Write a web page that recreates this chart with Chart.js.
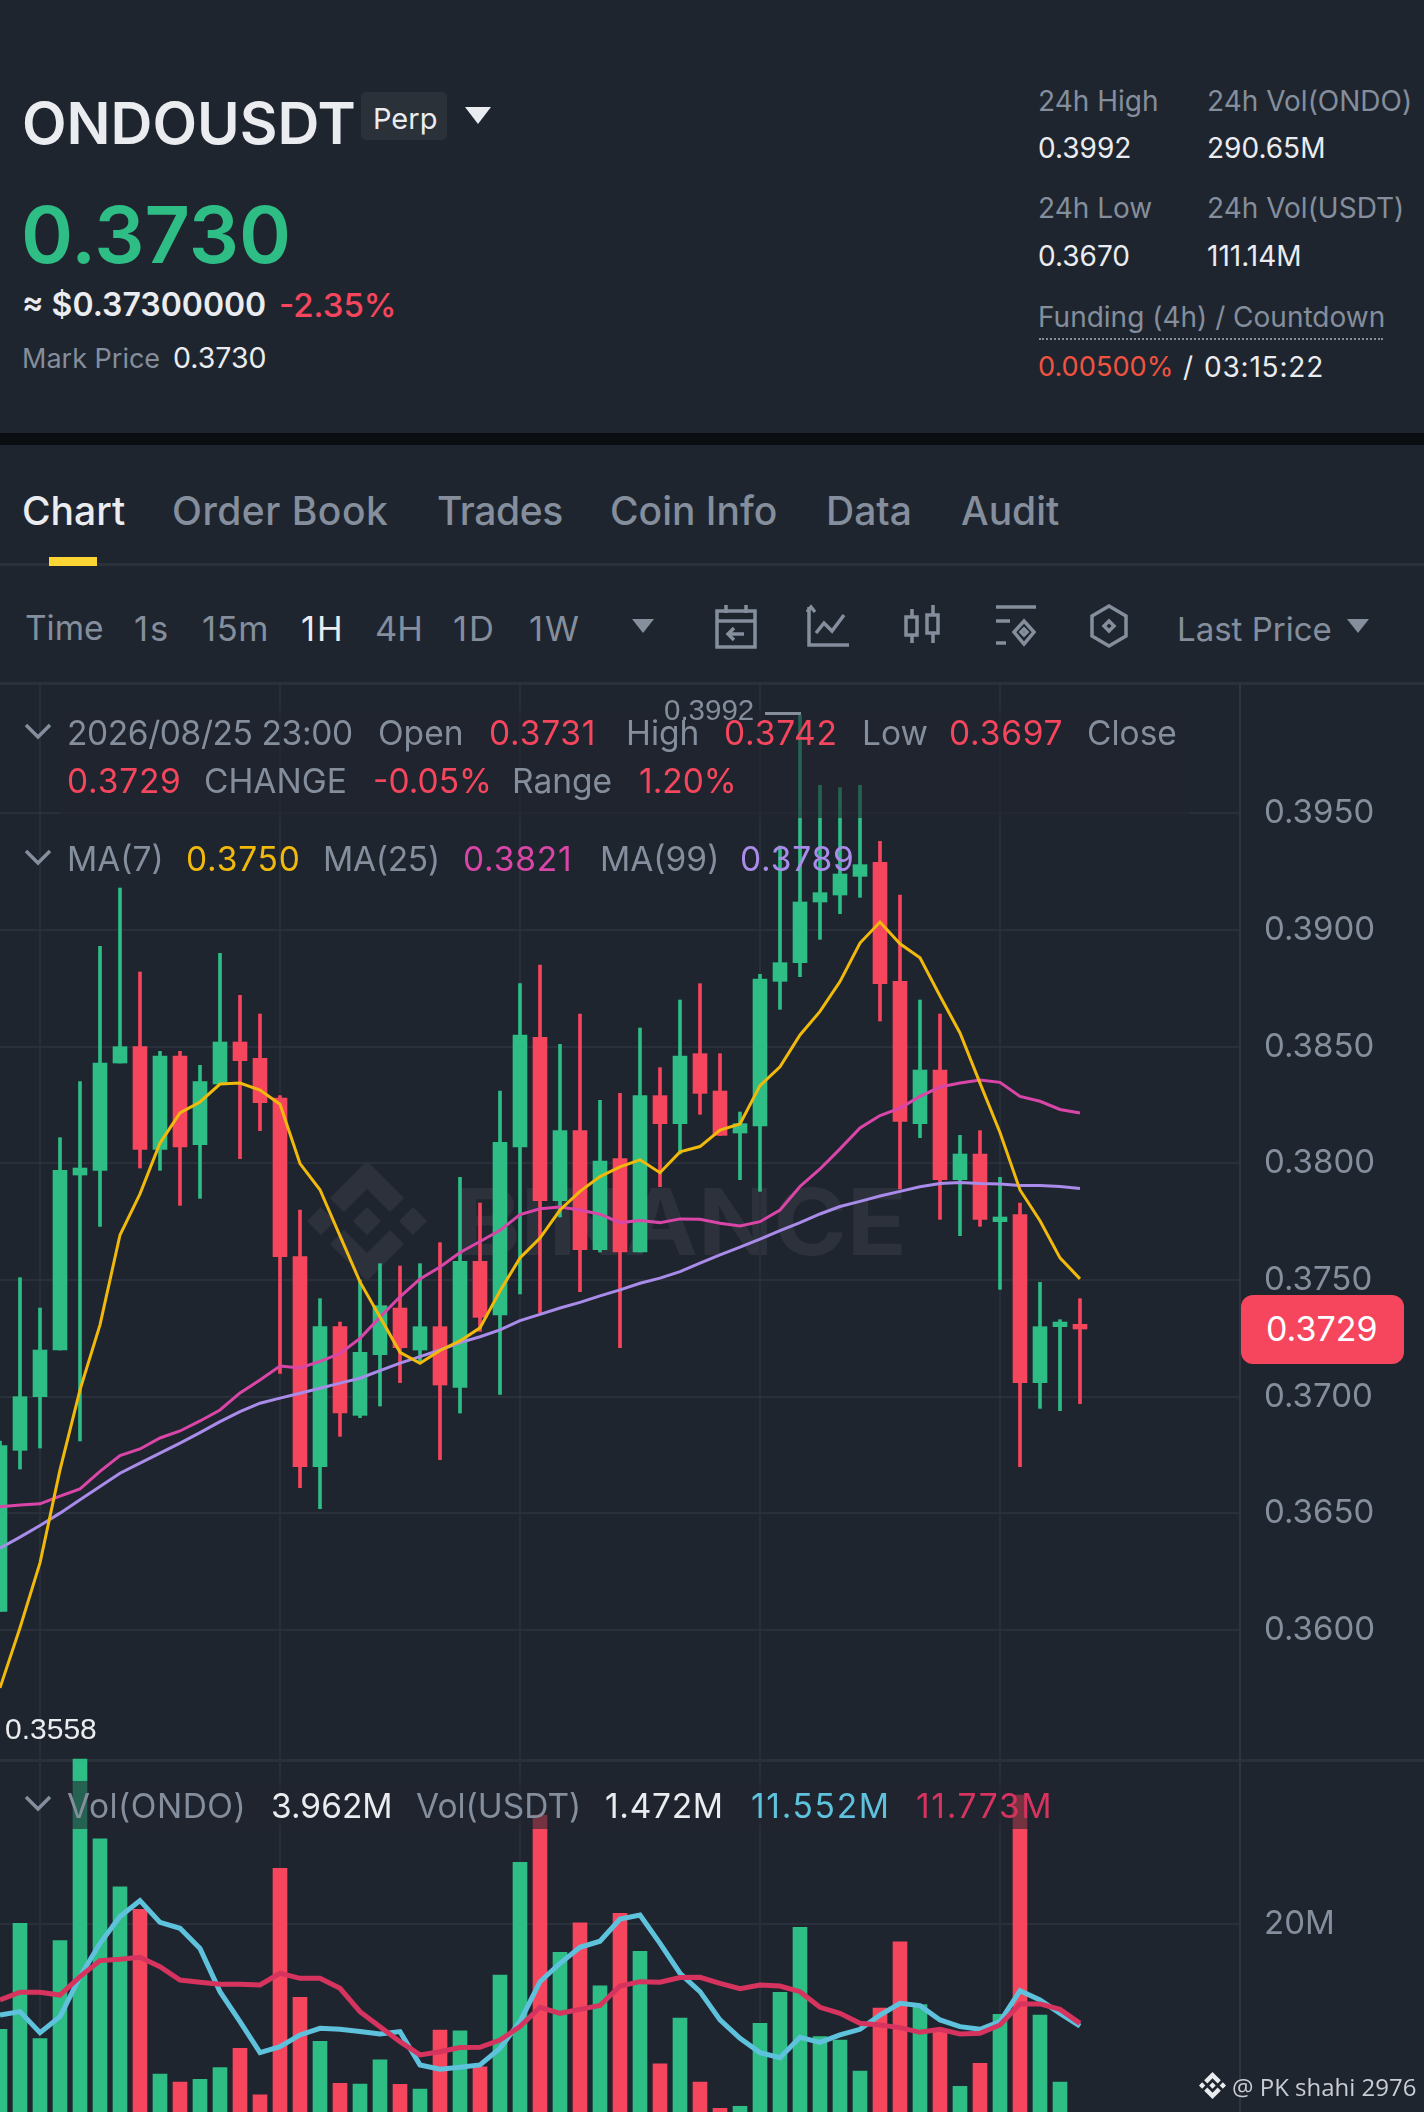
<!DOCTYPE html>
<html>
<head>
<meta charset="utf-8">
<title>ONDOUSDT</title>
<script src="https://cdn.jsdelivr.net/npm/chart.js@4"></script>
<style>
  html, body { margin: 0; padding: 0; background: #1F252F; }
  body { position: relative; width: 1424px; height: 2112px; overflow: hidden; font-family: Inter, sans-serif; }
  .t { position: absolute; white-space: nowrap; line-height: 1; transform: translateY(-50%); color: #848E9C; }
  .w { color: #EAECEF; }
  .g { color: #2EBD85; }
  .r { color: #F6465D; }
  .box { position: absolute; }
  canvas { position: absolute; left: 0; }
  .leg { font-size: 33.5px; }
  .num { letter-spacing: .8px; }
  .hd { font-size: 28px; }
  .tab { font-size: 39px; font-weight: 500; }
  .tf { font-size: 34.5px; }
  .one { letter-spacing: 2px; }
  .tri { position: absolute; width: 0; height: 0; border-left: 11px solid transparent; border-right: 11px solid transparent; border-top: 14px solid #848E9C; }
  svg.ic { position: absolute; fill: none; stroke: #848E9C; stroke-width: 3.5; }
</style>
</head>
<body>
<!-- header -->
<div class="t w" style="left:22px;top:123px;font-size:58px;font-weight:600">ONDOUSDT</div>
<div class="box" style="left:361px;top:92px;width:86px;height:48px;background:#2B3139;border-radius:5px"></div>
<div class="t w" style="left:373px;top:118px;font-size:29px">Perp</div>
<div class="tri" style="left:465px;top:107px;border-left-width:13px;border-right-width:13px;border-top:17px solid #EAECEF"></div>
<div class="t g" style="left:21px;top:234px;font-size:79px;font-weight:600">0.3730</div>
<div class="t w" style="left:22px;top:305px;font-size:32px;font-weight:600">≈ $0.37300000</div>
<div class="t r" style="left:279px;top:305px;font-size:33px;font-weight:500">-2.35%</div>
<div class="t" style="left:22px;top:358px;font-size:27px">Mark Price</div>
<div class="t w" style="left:173px;top:358px;font-size:28.5px">0.3730</div>

<div class="t hd" style="left:1038px;top:101px">24h High</div>
<div class="t hd" style="left:1207px;top:101px">24h Vol(ONDO)</div>
<div class="t hd w" style="left:1038px;top:148px">0.3992</div>
<div class="t hd w" style="left:1207px;top:148px">290.65M</div>
<div class="t hd" style="left:1038px;top:208px">24h Low</div>
<div class="t hd" style="left:1207px;top:208px">24h Vol(USDT)</div>
<div class="t hd w" style="left:1038px;top:256px">0.3670</div>
<div class="t hd w" style="left:1207px;top:256px">111.14M</div>
<div class="t hd" style="left:1038px;top:317px">Funding (4h) / Countdown</div>
<div class="box" style="left:1039px;top:338px;width:344px;border-top:2px dotted #848E9C"></div>
<div class="t" style="left:1038px;top:367px;font-size:27.2px;color:#F0533F">0.00500%</div>
<div class="t hd w" style="left:1183px;top:367px">/</div>
<div class="t hd w" style="left:1204px;top:367px;letter-spacing:.8px">03:15:22</div>

<div class="box" style="left:0;top:433px;width:1424px;height:12px;background:#0B0E11"></div>

<!-- tabs -->
<div class="t tab w" style="left:22px;top:510px">Chart</div>
<div class="t tab" style="left:172px;top:510px;letter-spacing:.5px">Order Book</div>
<div class="t tab" style="left:437px;top:510px;letter-spacing:-.4px">Trades</div>
<div class="t tab" style="left:610px;top:510px">Coin Info</div>
<div class="t tab" style="left:826px;top:510px">Data</div>
<div class="t tab" style="left:961px;top:510px">Audit</div>
<div class="box" style="left:0;top:563px;width:1424px;height:3px;background:#2B3139"></div>
<div class="box" style="left:49px;top:557px;width:48px;height:9px;background:#FCD535"></div>

<!-- timeframe row -->
<div class="t tf" style="left:25px;top:629px;font-size:33.5px">Time</div>
<div class="t tf one" style="left:134px;top:629px">1s</div>
<div class="t tf" style="left:202px;top:629px;letter-spacing:.6px">15m</div>
<div class="t tf w one" style="left:301px;top:629px">1H</div>
<div class="t tf" style="left:375px;top:629px">4H</div>
<div class="t tf one" style="left:453px;top:629px">1D</div>
<div class="t tf one" style="left:529px;top:629px">1W</div>
<div class="tri" style="left:632px;top:619px"></div>
<svg class="ic" style="left:712px;top:603px" width="48" height="46" viewBox="0 0 48 46"><path d="M5 8h38v36H5zM5 18h38M14 2v8M34 2v8M32 31H16m6-6-6 6 6 6"/></svg>
<svg class="ic" style="left:806px;top:603px" width="46" height="46" viewBox="0 0 46 46"><path d="M3 4v38h40M10 30l8-10 8 8 12-16M1 9l4-5 4 5"/></svg>
<svg class="ic" style="left:902px;top:603px" width="40" height="46" viewBox="0 0 40 46"><path d="M4 14h11v18H4zM25 12h11v18H25zM10 6v8M10 32v8M31 2v10M31 30v10"/></svg>
<svg class="ic" style="left:993px;top:603px" width="46" height="46" viewBox="0 0 46 46"><path d="M3 4h40M3 18h14M3 40h10M31 18l10 11-10 12-10-12zM31 26l3 3-3 3-3-3z"/></svg>
<svg class="ic" style="left:1089px;top:603px" width="40" height="46" viewBox="0 0 40 46"><path d="M20 3l17 10v20L20 43 3 33V13zM20 18l5 5-5 5-5-5z"/></svg>
<div class="t" style="left:1177px;top:629px;font-size:33px">Last Price</div>
<div class="tri" style="left:1347px;top:619px"></div>
<div class="box" style="left:0;top:682px;width:1424px;height:3px;background:#2B3139"></div>

<!-- watermark, sits under the transparent price canvas -->
<svg class="box" style="left:307px;top:1161px" width="120" height="120" viewBox="0 0 120 120" fill="#2C313B">
  <path d="M60 46l14 14-14 14-14-14zM14 46l14 14-14 14L0 60zM106 46l14 14-14 14-14-14zM60 0l37 37-14 14-23-23-23 23-14-14zM60 120l37-37-14-14-23 23-23-23-14 14z"/>
</svg>
<svg class="box" style="left:450px;top:1170px" width="470" height="100">
  <text x="5" y="85" textLength="452" lengthAdjust="spacingAndGlyphs" font-family="Inter" font-weight="700" font-size="92" fill="#2C313B">BINANCE</text>
</svg>

<canvas id="priceChart" style="top:685px" width="1424" height="1075"></canvas>
<div class="box" style="left:0;top:1759px;width:1424px;height:3px;background:#2B3139"></div>
<canvas id="volChart" style="top:1757px" width="1424" height="355"></canvas>

<!-- legend rows dim what is under them -->
<div class="box" style="left:60px;top:710px;width:1130px;height:108px;background:rgba(31,37,47,.6)"></div>
<div class="box" style="left:60px;top:1781px;width:1000px;height:48px;background:rgba(31,37,47,.6)"></div>

<svg class="ic" style="left:24px;top:722px" width="28" height="18" viewBox="0 0 28 18"><path d="M2 3l12 12L26 3"/></svg>
<div class="t leg" style="left:67px;top:734px;letter-spacing:-.4px">2026/08/25 23:00</div>
<div class="t leg" style="left:378px;top:734px">Open</div>
<div class="t leg r num" style="left:489px;top:734px">0.3731</div>
<div class="t leg" style="left:626px;top:734px">High</div>
<div class="t leg r num" style="left:724px;top:734px">0.3742</div>
<div class="t leg" style="left:862px;top:734px">Low</div>
<div class="t leg r num" style="left:949px;top:734px">0.3697</div>
<div class="t leg" style="left:1087px;top:734px">Close</div>
<div class="t leg r num" style="left:67px;top:782px">0.3729</div>
<div class="t leg" style="left:204px;top:782px">CHANGE</div>
<div class="t leg r" style="left:373px;top:782px">-0.05%</div>
<div class="t leg" style="left:512px;top:782px">Range</div>
<div class="t leg r" style="left:639px;top:782px">1.20%</div>

<svg class="ic" style="left:24px;top:848px" width="28" height="18" viewBox="0 0 28 18"><path d="M2 3l12 12L26 3"/></svg>
<div class="t leg" style="left:67px;top:860px">MA(7)</div>
<div class="t leg num" style="left:186px;top:860px;color:#F0B90B">0.3750</div>
<div class="t leg" style="left:323px;top:860px;letter-spacing:-.3px">MA(25)</div>
<div class="t leg num" style="left:463px;top:860px;color:#D946A8">0.3821</div>
<div class="t leg" style="left:600px;top:860px">MA(99)</div>
<div class="t leg num" style="left:740px;top:860px;color:#A98BEA">0.3789</div>

<div class="t" style="left:664px;top:710px;font-family:'Liberation Sans';font-size:29.5px;color:#848E9C">0.3992</div>
<div class="box" style="left:765px;top:712px;width:36px;height:3px;background:#848E9C"></div>
<div class="t w" style="left:5px;top:1729px;font-family:'Liberation Sans';font-size:30px">0.3558</div>

<svg class="ic" style="left:24px;top:1794px" width="28" height="18" viewBox="0 0 28 18"><path d="M2 3l12 12L26 3"/></svg>
<div class="t leg" style="left:67px;top:1807px;letter-spacing:.5px">Vol(ONDO)</div>
<div class="t leg w" style="left:271px;top:1807px">3.962M</div>
<div class="t leg" style="left:416px;top:1807px">Vol(USDT)</div>
<div class="t leg w" style="left:605px;top:1807px;letter-spacing:.7px">1.472M</div>
<div class="t leg" style="left:751px;top:1807px;letter-spacing:1.7px;color:#5EC2DC">11.552M</div>
<div class="t leg" style="left:916px;top:1807px;letter-spacing:1.7px;color:#D6345F">11.773M</div>

<div id="lastTag" class="box" style="left:1241px;width:163px;height:69px;background:#F6465D;border-radius:12px"></div>
<div id="lastText" class="t" style="left:1266px;font-size:34px;font-weight:400;color:#fff">0.3729</div>

<svg class="box" style="left:1199px;top:2072px" width="27" height="27" viewBox="0 0 120 120" fill="#EAECEF">
  <path d="M60 46l14 14-14 14-14-14zM14 46l14 14-14 14L0 60zM106 46l14 14-14 14-14-14zM60 0l37 37-14 14-23-23-23 23-14-14zM60 120l37-37-14-14-23 23-23-23-14 14z"/>
</svg>
<div class="t" style="left:1232px;top:2087px;font-family:'Open Sans';font-size:24px;color:#C9CDD3">@ PK shahi 2976</div>

<script>
const opens = [0.3608,0.3677,0.3700,0.3720,0.3795,0.3797,0.3843,0.3850,0.3806,0.3846,0.3808,0.3834,0.3852,0.3845,0.3828,0.3760,0.3670,0.3730,0.3692,0.3718,0.3738,0.3720,0.3730,0.3704,0.3758,0.3735,0.3807,0.3854,0.3784,0.3814,0.3763,0.3802,0.3762,0.3829,0.3817,0.3847,0.3831,0.3813,0.3816,0.3878,0.3886,0.3912,0.3915,0.3923,0.3929,0.3878,0.3817,0.3840,0.3793,0.3804,0.3775,0.3778,0.3706,0.3730,0.3731];
const highs = [0.3681,0.3751,0.3738,0.3811,0.3835,0.3893,0.3918,0.3882,0.3848,0.3848,0.3842,0.3890,0.3872,0.3864,0.3829,0.3780,0.3742,0.3732,0.3750,0.3757,0.3756,0.3757,0.3766,0.3794,0.3783,0.3831,0.3877,0.3885,0.3851,0.3864,0.3827,0.3830,0.3858,0.3841,0.3870,0.3877,0.3847,0.3822,0.3881,0.3936,0.3992,0.3962,0.3961,0.3962,0.3938,0.3915,0.3870,0.3864,0.3812,0.3814,0.3794,0.3783,0.3749,0.3733,0.3742];
const lows = [0.3608,0.3669,0.3678,0.3720,0.3681,0.3773,0.3843,0.3798,0.3797,0.3782,0.3785,0.3834,0.3802,0.3814,0.3710,0.3661,0.3652,0.3683,0.3691,0.3696,0.3706,0.3715,0.3673,0.3693,0.3728,0.3701,0.3744,0.3736,0.3777,0.3745,0.3762,0.3721,0.3762,0.3790,0.3804,0.3821,0.3812,0.3793,0.3788,0.3866,0.3880,0.3896,0.3907,0.3914,0.3861,0.3789,0.3811,0.3776,0.3769,0.3773,0.3746,0.3670,0.3695,0.3694,0.3697];
const closes = [0.3679,0.3700,0.3720,0.3797,0.3798,0.3843,0.3850,0.3806,0.3846,0.3807,0.3835,0.3852,0.3844,0.3826,0.3760,0.3670,0.3730,0.3693,0.3719,0.3739,0.3721,0.3730,0.3705,0.3758,0.3734,0.3809,0.3855,0.3784,0.3814,0.3763,0.3801,0.3762,0.3829,0.3817,0.3846,0.3830,0.3812,0.3817,0.3879,0.3886,0.3912,0.3916,0.3924,0.3928,0.3877,0.3818,0.3840,0.3793,0.3804,0.3776,0.3777,0.3706,0.3730,0.3732,0.3729];

const ma7 = [0.35752,0.3601,0.36288,0.36686,0.37029,0.37308,0.37693,0.37869,0.38087,0.38216,0.38263,0.3834,0.38344,0.38314,0.38253,0.37999,0.37887,0.37689,0.37492,0.37342,0.3719,0.37143,0.37198,0.37239,0.37295,0.37453,0.37595,0.3768,0.378,0.3788,0.37943,0.37985,0.38015,0.3796,0.38049,0.38072,0.38143,0.38169,0.38333,0.38414,0.3855,0.38651,0.38779,0.38944,0.39034,0.38941,0.38881,0.38717,0.38559,0.38344,0.38132,0.37886,0.37754,0.37595,0.37505];
const ma25 = [0.36528,0.36536,0.36541,0.36574,0.36605,0.3668,0.36748,0.36776,0.36823,0.36853,0.36896,0.36943,0.37016,0.37072,0.37131,0.37123,0.37151,0.37185,0.3725,0.37341,0.37428,0.37505,0.37556,0.37618,0.37665,0.37713,0.3778,0.37805,0.37813,0.378,0.37782,0.37746,0.37755,0.37746,0.37762,0.3776,0.37743,0.37732,0.3775,0.378,0.37901,0.37976,0.38062,0.38152,0.38205,0.38237,0.38287,0.38327,0.38344,0.38357,0.38347,0.38287,0.38266,0.38231,0.38216];
const ma99 = [0.36351,0.36398,0.36448,0.36501,0.36558,0.36615,0.36672,0.36715,0.36758,0.36801,0.36846,0.36893,0.36936,0.36972,0.36994,0.37015,0.37036,0.37058,0.37079,0.37112,0.37144,0.37172,0.372,0.37232,0.37257,0.37286,0.37326,0.37353,0.3738,0.37404,0.37432,0.37458,0.37486,0.37508,0.37536,0.37572,0.37608,0.37641,0.37675,0.37712,0.37746,0.37783,0.37815,0.37837,0.3786,0.3788,0.379,0.37914,0.37918,0.37914,0.37912,0.37905,0.37905,0.37901,0.37892];

// volume in millions
const volumes = [11.28,20.09,10.5,18.65,33.75,27.12,23.13,21.25,7.56,6.9,7.12,8.09,9.7,5.84,24.66,13.94,10.28,6.79,6.73,8.75,6.71,6.32,11.22,11.16,8.17,15.79,25.16,29.09,17.68,20.14,14.9,20.92,17.76,8.42,12.22,6.9,4.71,4.88,11.78,14.36,19.76,10.67,10.39,7.81,13.05,18.56,13.33,11.22,6.54,8.45,12.53,30.76,12.47,6.9,3.962];
const volMa5 = [12.47,12.75,11.0,12.33,15.66,18.43,20.65,21.98,20.17,19.68,18.01,14.41,11.92,9.34,9.84,10.81,11.36,11.28,11.09,10.89,11.09,8.32,7.96,8.12,8.32,9.7,11.92,15.24,16.77,18.1,18.6,20.45,20.78,18.43,15.94,14.41,12.06,10.53,9.34,8.92,10.62,10.2,10.81,11.28,12.47,13.44,13.25,12.06,11.5,11.28,11.92,14.49,13.72,12.61,11.552];
const volMa10 = [13.72,14.36,14.36,14.13,15.66,16.99,17.1,17.27,16.49,15.38,15.19,15.02,15.02,14.97,15.94,15.52,15.52,14.69,12.75,11.5,10.25,9.15,9.42,9.76,9.78,10.39,11.5,13.11,12.61,12.94,13.26,14.88,15.24,15.19,15.58,15.6,15.1,14.66,14.97,14.88,14.41,13.11,12.61,11.78,11.64,11.42,11.03,11.28,10.89,10.95,11.64,13.39,13.39,12.94,11.773];

const priceTicks = [0.36,0.365,0.37,0.375,0.38,0.385,0.39,0.395];
const volTicks = [20];

// slots to the right of the last candle stay empty
const slotCount = 63;
const slots = [];
for (let i = 0; i < slotCount; i++) slots.push('h' + i);
const gridEvery = 12, gridFirst = 2;

const GREEN = '#2EBD85', RED = '#F6465D', GRID = '#2A303B', GRID_V = '#282E38', AXIS = '#2F3540', TICK = '#848E9C';
const candleColors = closes.map((c, i) => c >= opens[i] ? GREEN : RED);

// stop the axes reserving room for their outer labels, the plot runs edge to edge
function noPadding(scale) {
  scale.paddingTop = scale.paddingBottom = scale.paddingLeft = scale.paddingRight = 0;
}

function xAxis() {
  return {
    type: 'category',
    offset: false,
    border: { display: false },
    grid: {
      offset: false,
      drawTicks: false,
      lineWidth: 2,
      color: ctx => (ctx.index - gridFirst) % gridEvery === 0 ? GRID_V : 'transparent'
    },
    ticks: { display: false, autoSkip: false },
    afterFit(scale) { scale.height = 0; noPadding(scale); }
  };
}

function yAxis(min, max, tickValues, label) {
  return {
    position: 'right',
    min: min,
    max: max,
    border: { display: true, color: AXIS, width: 2 },
    grid: { drawTicks: false, color: GRID, lineWidth: 2 },
    ticks: {
      color: TICK,
      padding: 24,
      font: { family: 'Inter', size: 33 },
      callback: label
    },
    afterBuildTicks(scale) { scale.ticks = tickValues.map(v => ({ value: v })); },
    afterFit(scale) { scale.width = 184; noPadding(scale); }
  };
}

function maLine(values, color, width, order) {
  return { type: 'line', data: values, borderColor: color, borderWidth: width, pointRadius: 0, tension: 0, order: order };
}

const baseOptions = {
  responsive: false,
  animation: false,
  devicePixelRatio: 1,
  layout: { padding: 0 },
  plugins: { legend: { display: false }, tooltip: { enabled: false } }
};

const priceChart = new Chart(document.getElementById('priceChart'), {
  type: 'bar',
  data: {
    labels: slots,
    datasets: [
      { data: highs.map((h, i) => [lows[i], h]), backgroundColor: candleColors, barThickness: 3, grouped: false, order: 5 },
      { data: opens.map((o, i) => [o, closes[i]]), backgroundColor: candleColors, barThickness: 14, grouped: false, order: 4 },
      maLine(ma99, '#A98BEA', 3, 3),
      maLine(ma25, '#D946A8', 3, 2),
      maLine(ma7, '#F0B90B', 3, 1)
    ]
  },
  options: Object.assign({}, baseOptions, {
    scales: { x: xAxis(), y: yAxis(0.35443, 0.4005, priceTicks, v => v.toFixed(4)) }
  })
});

new Chart(document.getElementById('volChart'), {
  type: 'bar',
  data: {
    labels: slots,
    datasets: [
      { data: volumes, backgroundColor: candleColors, barThickness: 14, grouped: false, order: 3 },
      maLine(volMa5, '#5EC2DC', 5, 2),
      maLine(volMa10, '#D6345F', 5, 1)
    ]
  },
  options: Object.assign({}, baseOptions, {
    scales: { x: xAxis(), y: yAxis(4.405, 33.92, volTicks, v => v + 'M') }
  })
});

// last price tag follows the price scale
const lastY = 685 + priceChart.scales.y.getPixelForValue(closes[closes.length - 1]);
document.getElementById('lastTag').style.top = (lastY - 34) + 'px';
document.getElementById('lastText').style.top = lastY + 'px';
</script>
</body>
</html>
